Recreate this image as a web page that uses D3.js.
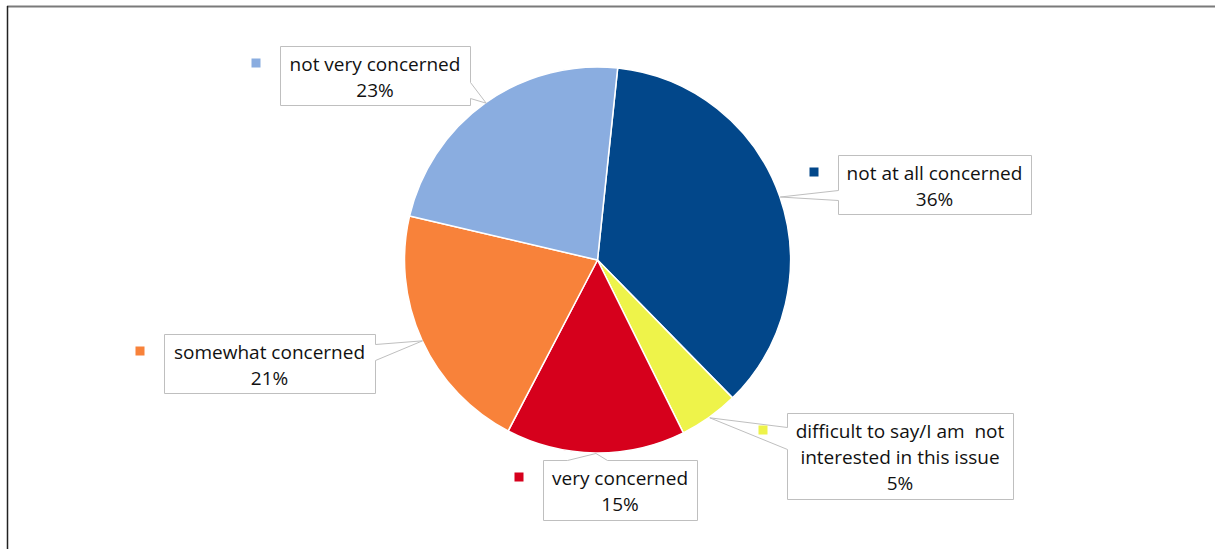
<!DOCTYPE html>
<html>
<head>
<meta charset="utf-8">
<script src="https://cdn.jsdelivr.net/npm/d3@7"></script>
<style>
html,body{margin:0;padding:0;background:#fff;}
svg{display:block;}
</style>
</head>
<body>
<svg id="chart" width="1215" height="549"></svg>
<script>
// ---- data ----
const categories = ["not at all concerned", "difficult to say/I am  not interested in this issue", "very concerned", "somewhat concerned", "not very concerned"];
const values = [36, 5, 15, 21, 23];
const labelLines = [
  ["not at all concerned", "36%"],
  ["difficult to say/I am  not", "interested in this issue", "5%"],
  ["very concerned", "15%"],
  ["somewhat concerned", "21%"],
  ["not very concerned", "23%"]
];
const colors = ["#02478A", "#EEF34A", "#D6001C", "#F8823A", "#8AADE0"];

// ---- layout (callout boxes) ----
const boxes = [
  {x: 838, y: 155, w: 193, h: 59, side: "left",   b1: 190, b2: 200},
  {x: 787, y: 413, w: 226, h: 86, side: "left",   b1: 427, b2: 449},
  {x: 543, y: 460, w: 154, h: 60, side: "top",    b1: 567, b2: 607},
  {x: 164, y: 334, w: 211, h: 59, side: "right",  b1: 344, b2: 360},
  {x: 280, y: 46,  w: 190, h: 59, side: "right",  b1: 82,  b2: 98}
];

const svg = d3.select("#chart");
const cx = 597.5, cy = 260, r = 193;
const startAngle = 6 * Math.PI / 180;

// frame
svg.append("line").attr("x1", 7).attr("x2", 1215).attr("y1", 6.5).attr("y2", 6.5)
  .attr("stroke", "#7a7a7a").attr("stroke-width", 2);
svg.append("line").attr("x1", 7.5).attr("x2", 7.5).attr("y1", 6).attr("y2", 549)
  .attr("stroke", "#222").attr("stroke-width", 1.5);

const pie = d3.pie().sort(null).value(d => d)
  .startAngle(startAngle).endAngle(startAngle + 2 * Math.PI);
const arcs = pie(values);
const arc = d3.arc().innerRadius(0).outerRadius(r);
const rimArc = d3.arc().innerRadius(r).outerRadius(r);

const g = svg.append("g").attr("transform", `translate(${cx},${cy})`);
g.selectAll("path.slice").data(arcs).enter().append("path")
  .attr("class", "slice")
  .attr("d", arc)
  .attr("fill", (d, i) => colors[i])
  .attr("stroke", "#fff").attr("stroke-width", 1.5).attr("stroke-linejoin", "round");

// callouts
arcs.forEach((a, i) => {
  const b = boxes[i];
  const c = rimArc.centroid(a);
  const tx = cx + c[0], ty = cy + c[1];
  const x0 = b.x, y0 = b.y, x1 = b.x + b.w, y1 = b.y + b.h;
  let p = d3.path();
  p.moveTo(x0, y0);
  if (b.side === "top") { p.lineTo(b.b1, y0); p.lineTo(tx, ty); p.lineTo(b.b2, y0); }
  p.lineTo(x1, y0);
  if (b.side === "right") { p.lineTo(x1, b.b1); p.lineTo(tx, ty); p.lineTo(x1, b.b2); }
  p.lineTo(x1, y1);
  p.lineTo(x0, y1);
  if (b.side === "left") { p.lineTo(x0, b.b2); p.lineTo(tx, ty); p.lineTo(x0, b.b1); }
  p.closePath();
  svg.append("path").attr("d", p.toString())
    .attr("fill", "#fff").attr("stroke", "#bfbfbf").attr("stroke-width", 1)
    .attr("transform", "translate(0.5,0.5)");

  svg.append("rect")
    .attr("x", b.x - 28.5).attr("y", b.y + 12.5).attr("width", 9).attr("height", 9)
    .attr("fill", colors[i]);

  const t = svg.append("text")
    .attr("font-family", "'Open Sans', 'Noto Sans', sans-serif")
    .attr("font-size", 19)
    .attr("fill", "#111")
    .attr("text-anchor", "middle");
  labelLines[i].forEach((ln, k) => {
    t.append("tspan").attr("x", b.x + b.w / 2).attr("y", b.y + 24.5 + k * 26)
      .attr("xml:space", "preserve").text(ln);
  });
});
</script>
</body>
</html>
